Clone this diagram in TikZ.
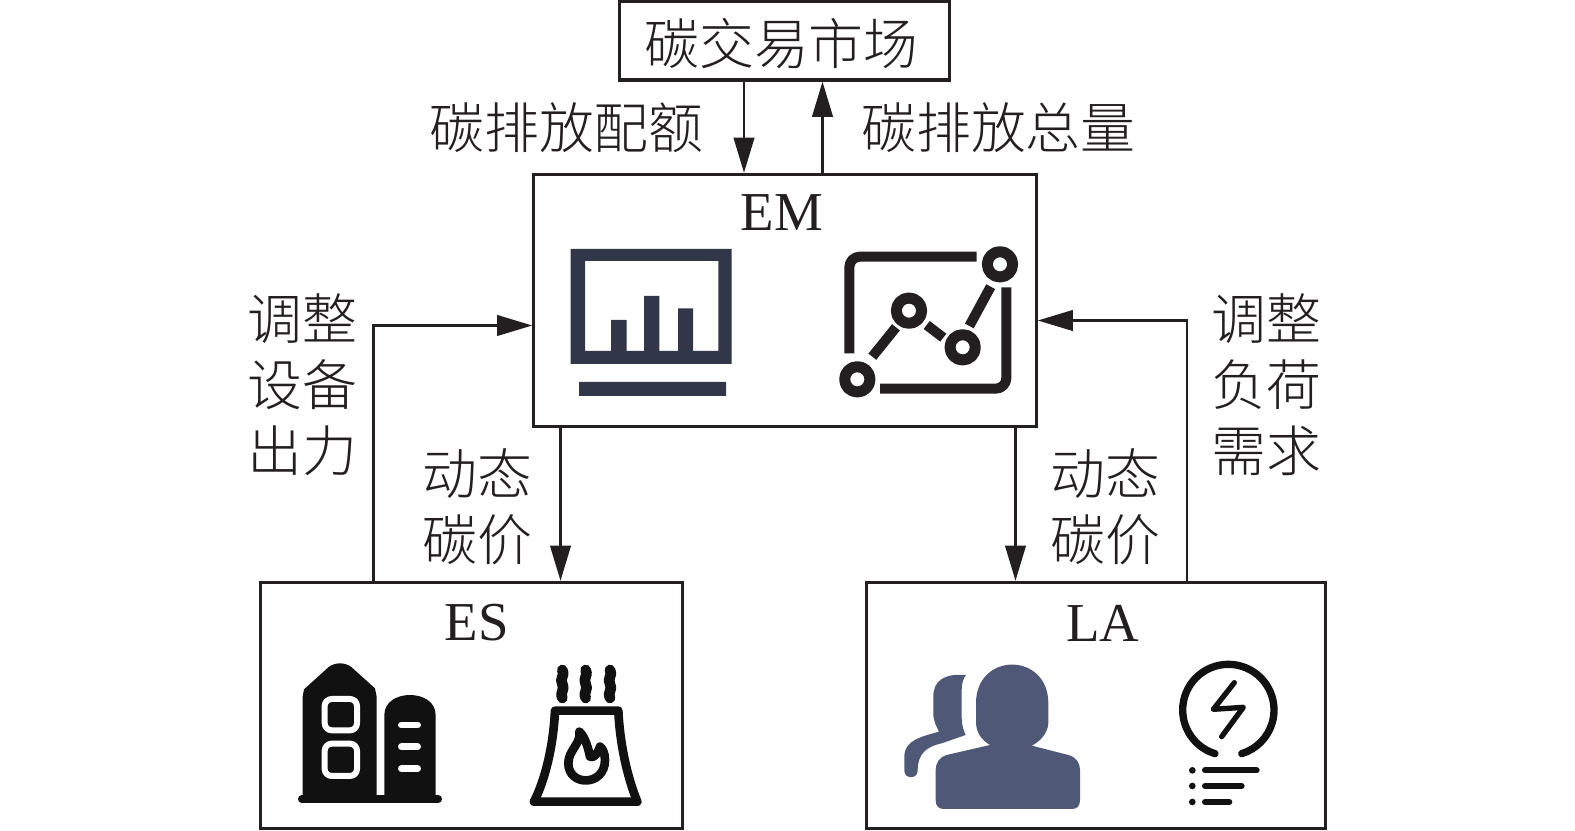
\documentclass[tikz,border=0pt]{standalone}
\usepackage{fontspec}
\setmainfont{Liberation Serif}
\newfontfamily\cjk{Noto Sans CJK SC Light}
\usetikzlibrary{arrows.meta,calc}
\definecolor{LineDark}{HTML}{231F20}
\definecolor{IconSlate}{HTML}{313649}
\definecolor{IconBlack}{HTML}{111111}
\definecolor{IconBlue}{HTML}{4F5877}
\tikzset{
  box/.style={draw=LineDark,line width=0.9pt,inner sep=0pt},
  flowline/.style={draw=LineDark,line width=0.8pt,-{Triangle[length=10pt,width=5.8pt]}},
  label/.style={text=LineDark,align=center,inner sep=0pt,font=\fontsize{15.6}{18.8}\selectfont\cjk},
  title/.style={text=LineDark,inner sep=0pt,font=\fontsize{15.6}{18.8}\selectfont},
  icon/.style={line width=#1*0.0948pt,line cap=round,line join=round},
  icon/.default=30
}
\begin{document}
\begin{tikzpicture}[x=0.01cm,y=-0.01cm]
    \useasboundingbox (0,0) rectangle (1575,831);
    \node[box,minimum width=3.29cm,minimum height=0.79cm] (market) at (784.5,40.5) {};
    \node[box,minimum width=5.02cm,minimum height=2.52cm] (EM) at (785,300.5) {};
    \node[box,minimum width=4.21cm,minimum height=2.46cm] (ES) at (471.5,705.5) {};
    \node[box,minimum width=4.58cm,minimum height=2.46cm] (LA) at (1096,705.5) {};
    \node[label] (marketname) at (781.5,43.5) {碳交易市场};
    \node[title] (EMname) at (782,213) {EM};
    \node[title] (ESname) at (477,623) {ES};
    \node[title] (LAname) at (1103,623) {LA};
    \node[label] (quota) at (566.5,127.5) {碳排放配额};
    \node[label] (total) at (998.5,127.5) {碳排放总量};
    \node[label] (adjustES) at (302,385) {调整\\设备\\出力};
    \node[label] (adjustLA) at (1266,385) {调整\\负荷\\需求};
    \node[label] (priceES) at (477,507) {动态\\碳价};
    \node[label] (priceLA) at (1105,507) {动态\\碳价};
    % vertical arrows
    \coordinate (xQuota) at (744,0);
    \coordinate (xTotal) at (822.5,0);
    \coordinate (xES) at (560.5,0);
    \coordinate (xLA) at (1015.5,0);
    \foreach \a/\b/\c in {market.south/EM.north/xQuota,EM.north/market.south/xTotal,EM.south/ES.north/xES,EM.south/LA.north/xLA}{\draw[flowline] (\a -| \c)--(\b -| \c);}
    % elbow arrows
    \coordinate (backES) at (373.5,325.5);
    \coordinate (backLA) at (1187,320.5);
    \draw[flowline] (ES.north -| backES)--(backES)--(backES -| EM.west);
    \draw[flowline] (LA.north -| backLA)--(backLA)--(backLA -| EM.east);
    % monitor
    \begin{scope}[shift={(530,170)},scale=1/3]
      \fill[IconSlate,even odd rule] (122,237) rectangle (605,582) (165,273) rectangle (565,543);
      \fill[IconSlate] (243,450) rectangle (290,545) (342,378) rectangle (388,545) (444,415) rectangle (489,545) (147,636) rectangle (588,678);
    \end{scope}
    % line chart
    \begin{scope}[shift={(530,170)},scale=1/3,draw=LineDark]
      \draw[icon=30,line cap=butt,rounded corners=3pt] (958,550)--(958,260)--(1340,260);
      \draw[icon=30,line cap=butt,rounded corners=3pt] (1429,352)--(1429,656)--(1050,656);
      \draw[icon=30,line cap=butt] (1027,560)--(1098,472) (1190,465)--(1240,503) (1318,468)--(1382,350);
      \foreach \x/\y in {982/628,1410/283,1137/422,1298/532}{\draw[icon=33] (\x,\y) circle[radius=38];}
    \end{scope}
    % silos
    \begin{scope}[shift={(260,580)},scale=1/3]
      \fill[IconBlack] (128,655)--(128,350)--(132,328)--(205,262)..controls (225,246) and (255,246) .. (275,262)--(345,325)--(350,350)--(350,655)--cycle;
      \fill[IconBlack] (373,655)--(373,405)..controls (373,325) and (527,325) .. (527,405)--(527,655)--cycle;
      \draw[icon=22,IconBlack] (125,657)--(535,657);
      \draw[icon=18,white,rounded corners=2pt] (194,357) rectangle (291,451) (194,491) rectangle (291,588);
      \draw[icon=20,white] (424,435)--(473,435) (424,500)--(473,500) (424,566)--(473,566);
    \end{scope}
    % cooling tower
    \begin{scope}[shift={(260,580)},scale=1/3,draw=IconBlack]
      \foreach \x in {907,977,1050}{\draw[icon=32] (\x,270)..controls (\x+10,285) and (\x-10,295) .. (\x,312)..controls (\x+10,328) and (\x-10,340) .. (\x,354);}
      \draw[icon=26] (885,392)--(1075,392)..controls (1080,500) and (1105,600) .. (1132,665)--(822,665)..controls (855,600) and (880,500) .. (885,392);
      \draw[icon=26] (958,455)..controls (965,490) and (925,510) .. (925,550)..controls (925,620) and (1035,620) .. (1035,540)..controls (1035,520) and (1028,505) .. (1020,500)..controls (1012,525) and (1000,535) .. (990,530)..controls (985,505) and (975,470) .. (958,455);
    \end{scope}
    % people
    \begin{scope}[shift={(865,580)},scale=1/3]
      \fill[IconBlue] (333,370)..controls (333,215) and (550,215) .. (550,370)--(550,430)..controls (548,460) and (525,485) .. (500,497)--(610,525)..controls (635,532) and (645,550) .. (645,570)--(645,660)..controls (645,680) and (635,687) .. (620,687)--(237,687)..controls (222,687) and (212,680) .. (212,660)--(212,570)..controls (212,550) and (222,532) .. (245,525)--(375,495)..controls (350,480) and (335,460) .. (333,430)--cycle;
      \fill[IconBlue] (303,285)..controls (240,280) and (205,300) .. (205,350)--(205,400)..controls (205,425) and (215,440) .. (222,455)..controls (170,470) and (118,480) .. (118,530)--(118,572)..controls (118,598) and (158,598) .. (158,572)..controls (158,520) and (185,500) .. (230,490)--(302,465)..controls (290,440) and (290,420) .. (290,400)--(290,330)..controls (290,310) and (295,295) .. (303,285)--cycle;
    \end{scope}
    % bulb
    \begin{scope}[shift={(865,580)},scale=1/3,draw=IconBlack]
      \draw[icon=22] (1050,521) arc[start angle=107,end angle=433,radius=137];
      \draw[icon=16] (1108,308)--(1045,388)--(1135,382)--(1070,470);
      \foreach \y/\e in {571/1175,618/1130,666/1093}{
        \fill[IconBlack] (982,\y) circle[radius=10];
        \draw[icon=18] (1020,\y)--(\e,\y);}
    \end{scope}
  \end{tikzpicture}
\end{document}
